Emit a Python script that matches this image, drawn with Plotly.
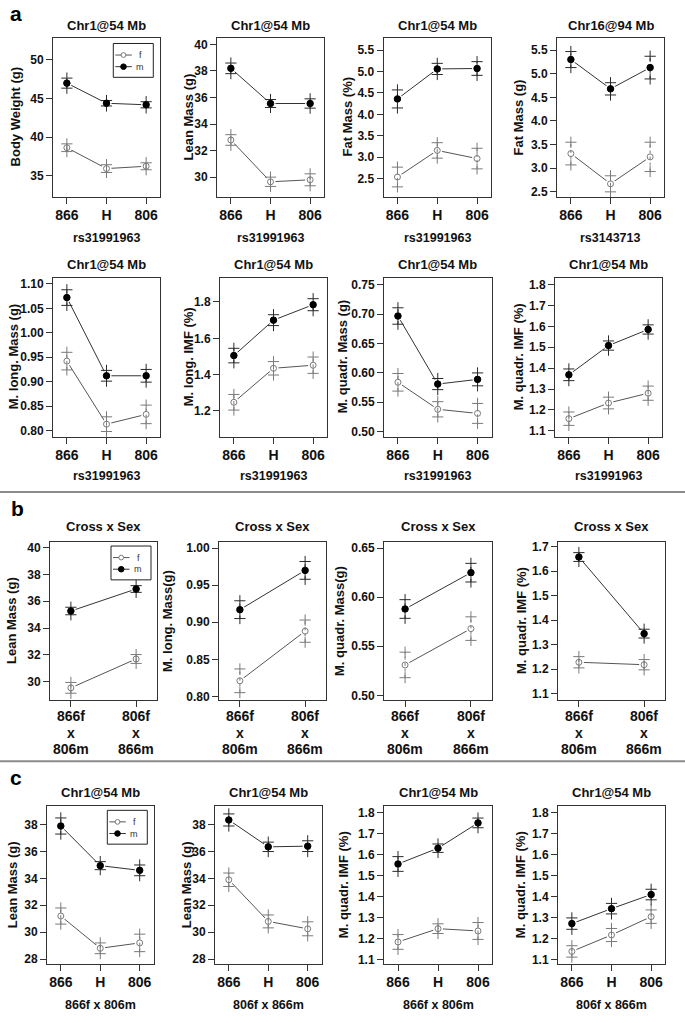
import plotly.graph_objects as go

W, H = 685, 1023
FONT = "Liberation Sans"

# ---------------- categories ----------------
GENO = ["866", "H", "806"]
CROSS = ["866f<br>x<br>806m", "806f<br>x<br>866m"]
SEXES = ["f", "m"]

# ---------------- data: means and standard errors ----------------
# a, top row
BW_F = [38.65, 35.95, 36.25];   BW_F_SE = [0.5, 0.5, 0.45]
BW_M = [47.0, 44.4, 44.2];      BW_M_SE = [0.65, 0.35, 0.4]
LM1_F = [32.8, 29.65, 29.8];    LM1_F_SE = [0.4, 0.35, 0.45]
LM1_M = [38.2, 35.55, 35.55];   LM1_M_SE = [0.4, 0.3, 0.35]
FMP_F = [2.54, 3.16, 2.97];     FMP_F_SE = [0.23, 0.18, 0.24]
FMP_M = [4.36, 5.06, 5.07];     FMP_M_SE = [0.21, 0.13, 0.16]
FMG_F = [3.31, 2.67, 3.24];     FMG_F_SE = [0.24, 0.17, 0.31]
FMG_M = [5.30, 4.68, 5.13];     FMG_M_SE = [0.17, 0.13, 0.24]
# a, bottom row
MLM_F = [0.942, 0.813, 0.833]; MLM_F_SE = [0.018, 0.015, 0.019]
MLM_M = [1.072, 0.912, 0.912]; MLM_M_SE = [0.016, 0.011, 0.013]
MLI_F = [1.248, 1.435, 1.452]; MLI_F_SE = [0.043, 0.037, 0.045]
MLI_M = [1.505, 1.70, 1.785];  MLI_M_SE = [0.04, 0.03, 0.033]
MQM_F = [0.584, 0.538, 0.531]; MQM_F_SE = [0.015, 0.013, 0.017]
MQM_M = [0.697, 0.581, 0.589]; MQM_M_SE = [0.014, 0.0095, 0.011]
MQI_F = [1.158, 1.233, 1.28];  MQI_F_SE = [0.032, 0.028, 0.034]
MQI_M = [1.368, 1.508, 1.585]; MQI_M_SE = [0.028, 0.022, 0.022]
# b
B_LM_F = [29.55, 31.7];     B_LM_F_SE = [0.4, 0.33]
B_LM_M = [35.27, 36.91];    B_LM_M_SE = [0.28, 0.25]
B_MLM_F = [0.821, 0.888];   B_MLM_F_SE = [0.016, 0.015]
B_MLM_M = [0.917, 0.970];   B_MLM_M_SE = [0.012, 0.012]
B_MQM_F = [0.531, 0.568];   B_MQM_F_SE = [0.013, 0.012]
B_MQM_M = [0.588, 0.625];   B_MQM_M_SE = [0.0095, 0.0095]
B_MQI_F = [1.228, 1.218];   B_MQI_F_SE = [0.023, 0.021]
B_MQI_M = [1.658, 1.345];   B_MQI_M_SE = [0.018, 0.018]
# c
C1_F = [31.2, 28.8, 29.2];      C1_F_SE = [0.6, 0.4, 0.65]
C1_M = [37.9, 34.95, 34.6];     C1_M_SE = [0.6, 0.3, 0.4]
C2_F = [33.9, 30.8, 30.25];     C2_F_SE = [0.5, 0.48, 0.52]
C2_M = [38.35, 36.35, 36.4];    C2_M_SE = [0.45, 0.35, 0.4]
C3_F = [1.185, 1.248, 1.237];   C3_F_SE = [0.035, 0.023, 0.04]
C3_M = [1.555, 1.63, 1.75];     C3_M_SE = [0.035, 0.02, 0.023]
C4_F = [1.14, 1.218, 1.305];    C4_F_SE = [0.027, 0.031, 0.032]
C4_M = [1.272, 1.343, 1.41];    C4_M_SE = [0.027, 0.025, 0.025]

# ---------------- tick values ----------------
T_BW = [35, 40, 45, 50]
T_LM = [30, 32, 34, 36, 38, 40]
T_FM = [2.5, 3.0, 3.5, 4.0, 4.5, 5.0, 5.5]
T_MLM = [0.80, 0.85, 0.90, 0.95, 1.00, 1.05, 1.10]
T_MLI = [1.2, 1.4, 1.6, 1.8]
T_MQM = [0.50, 0.55, 0.60, 0.65, 0.70, 0.75]
T_MQI = [1.1, 1.2, 1.3, 1.4, 1.5, 1.6, 1.7, 1.8]
T_BMLM = [0.80, 0.85, 0.90, 0.95, 1.00]
T_BMQM = [0.50, 0.55, 0.60, 0.65]
T_BMQI = [1.1, 1.2, 1.3, 1.4, 1.5, 1.6, 1.7]
T_CLM = [28, 30, 32, 34, 36, 38]

# ---------------- layout geometry (pixels) ----------------
ROWS = {
    "a1": dict(top=36, bot=196, cols=[(53, 160), (217, 324), (383.5, 491), (557, 664)],
               title_y=24, xlab_y=237, ylab_x=[15, 188, 347, 518]),
    "a2": dict(top=277, bot=437, cols=[(53, 160), (220, 327), (384, 491.5), (555, 662)],
               title_y=264, xlab_y=476, ylab_x=[13, 188, 342, 518]),
    "b": dict(top=542.5, bot=701.5, cols=[(50, 157), (219, 326), (384, 492), (558, 665)],
              title_y=527, xlab_y=None, ylab_x=[12, 168, 340, 522]),
    "c": dict(top=808, bot=967, cols=[(47, 153.5), (215, 321.5), (384, 492), (558, 665)],
              title_y=794, xlab_y=1008, ylab_x=[12, 186, 343, 520]),
}
B_TICK_LINES_Y = [718, 735, 751]

PANELS = [
    dict(row="a1", col=0, title="Chr1@54 Mb", ylab="Body Weight (g)", xlab="rs31991963", cats=GENO,
         f=BW_F, fse=BW_F_SE, m=BW_M, mse=BW_M_SE, ticks=T_BW, fmt="d", yr=[32.27, 52.86], key=(113.3, 41.7)),
    dict(row="a1", col=1, title="Chr1@54 Mb", ylab="Lean Mass (g)", xlab="rs31991963", cats=GENO,
         f=LM1_F, fse=LM1_F_SE, m=LM1_M, mse=LM1_M_SE, ticks=T_LM, fmt="d", yr=[28.5, 40.5]),
    dict(row="a1", col=2, title="Chr1@54 Mb", ylab="Fat Mass (%)", xlab="rs31991963", cats=GENO,
         f=FMP_F, fse=FMP_F_SE, m=FMP_M, mse=FMP_M_SE, ticks=T_FM, fmt=".1f", yr=[2.073, 5.785]),
    dict(row="a1", col=3, title="Chr16@94 Mb", ylab="Fat Mass (g)", xlab="rs3143713", cats=GENO,
         f=FMG_F, fse=FMG_F_SE, m=FMG_M, mse=FMG_M_SE, ticks=T_FM, fmt=".1f", yr=[2.39, 5.76]),
    dict(row="a2", col=0, title="Chr1@54 Mb", ylab="M. long. Mass (g)", xlab="rs31991963", cats=GENO,
         f=MLM_F, fse=MLM_F_SE, m=MLM_M, mse=MLM_M_SE, ticks=T_MLM, fmt=".2f", yr=[0.787, 1.1128]),
    dict(row="a2", col=1, title="Chr1@54 Mb", ylab="M. long. IMF (%)", xlab="rs31991963", cats=GENO,
         f=MLI_F, fse=MLI_F_SE, m=MLI_M, mse=MLI_M_SE, ticks=T_MLI, fmt=".1f", yr=[1.0575, 1.934]),
    dict(row="a2", col=2, title="Chr1@54 Mb", ylab="M. quadr. Mass (g)", xlab="rs31991963", cats=GENO,
         f=MQM_F, fse=MQM_F_SE, m=MQM_M, mse=MQM_M_SE, ticks=T_MQM, fmt=".2f", yr=[0.491, 0.7624]),
    dict(row="a2", col=3, title="Chr1@54 Mb", ylab="M. quadr. IMF (%)", xlab="rs31991963", cats=GENO,
         f=MQI_F, fse=MQI_F_SE, m=MQI_M, mse=MQI_M_SE, ticks=T_MQI, fmt=".1f", yr=[1.071, 1.833]),
    dict(row="b", col=0, title="Cross x Sex", ylab="Lean Mass (g)", xlab=None, cats=CROSS,
         f=B_LM_F, fse=B_LM_F_SE, m=B_LM_M, mse=B_LM_M_SE, ticks=T_LM, fmt="d", yr=[28.64, 40.42], key=(111, 546.7)),
    dict(row="b", col=1, title="Cross x Sex", ylab="M. long. Mass(g)", xlab=None, cats=CROSS,
         f=B_MLM_F, fse=B_MLM_F_SE, m=B_MLM_M, mse=B_MLM_M_SE, ticks=T_BMLM, fmt=".2f", yr=[0.795, 1.0085]),
    dict(row="b", col=2, title="Cross x Sex", ylab="M. quadr. Mass(g)", xlab=None, cats=CROSS,
         f=B_MQM_F, fse=B_MQM_F_SE, m=B_MQM_M, mse=B_MQM_M_SE, ticks=T_BMQM, fmt=".2f", yr=[0.4952, 0.6564]),
    dict(row="b", col=3, title="Cross x Sex", ylab="M. quadr. IMF (%)", xlab=None, cats=CROSS,
         f=B_MQI_F, fse=B_MQI_F_SE, m=B_MQI_M, mse=B_MQI_M_SE, ticks=T_BMQI, fmt=".1f", yr=[1.0735, 1.72]),
    dict(row="c", col=0, title="Chr1@54 Mb", ylab="Lean Mass (g)", xlab="866f x 806m", cats=GENO,
         f=C1_F, fse=C1_F_SE, m=C1_M, mse=C1_M_SE, ticks=T_CLM, fmt="d", yr=[27.61, 39.385], key=(107.3, 812.3)),
    dict(row="c", col=1, title="Chr1@54 Mb", ylab="Lean Mass (g)", xlab="806f x 866m", cats=GENO,
         f=C2_F, fse=C2_F_SE, m=C2_M, mse=C2_M_SE, ticks=T_CLM, fmt="d", yr=[27.61, 39.385]),
    dict(row="c", col=2, title="Chr1@54 Mb", ylab="M. quadr. IMF (%)", xlab="866f x 806m", cats=GENO,
         f=C3_F, fse=C3_F_SE, m=C3_M, mse=C3_M_SE, ticks=T_MQI, fmt=".1f", yr=[1.079, 1.83]),
    dict(row="c", col=3, title="Chr1@54 Mb", ylab="M. quadr. IMF (%)", xlab="806f x 866m", cats=GENO,
         f=C4_F, fse=C4_F_SE, m=C4_M, mse=C4_M_SE, ticks=T_MQI, fmt=".1f", yr=[1.079, 1.83]),
]

STYLE = {
    "f": dict(line="#555555", pt="#7a7a7a", sym="circle-open", size=6, cross="#7a7a7a"),
    "m": dict(line="#333333", pt="#000000", sym="circle", size=6.5, cross="#2a2a2a"),
}

fig = go.Figure()
layout = dict(
    width=W, height=H, margin=dict(l=0, r=0, t=0, b=0),
    paper_bgcolor="white", plot_bgcolor="white",
    font=dict(family=FONT, color="#111"), showlegend=False,
)
annotations = []
shapes = []


def px(x):
    return x / W


def py(y):
    return 1 - y / H


for i, p in enumerate(PANELS, start=1):
    sfx = "" if i == 1 else str(i)
    xa, ya = "x" + sfx, "y" + sfx
    row = ROWS[p["row"]]
    l, r = row["cols"][p["col"]]
    n = len(p["cats"])
    xs = list(range(1, n + 1))
    xr = [0.65, n + 0.35] if n == 3 else [0.68, 2.32]

    for sex in SEXES:
        mean = p[sex]
        se = p[sex + "se"]
        st = STYLE[sex]
        # connecting line
        fig.add_trace(go.Scatter(
            x=xs, y=mean, xaxis=xa, yaxis=ya, mode="lines", name=sex,
            line=dict(color=st["line"], width=1), hoverinfo="skip"))
        # gaps around points (R type="b")
        fig.add_trace(go.Scatter(
            x=xs, y=mean, xaxis=xa, yaxis=ya, mode="markers",
            marker=dict(symbol="circle", color="white", size=10, line=dict(width=0)),
            hoverinfo="skip"))
        # dotted error segments
        ex, ey = [], []
        for xv, mv, sv in zip(xs, mean, se):
            ex += [xv, xv, None]
            ey += [mv - sv, mv + sv, None]
        fig.add_trace(go.Scatter(
            x=ex, y=ey, xaxis=xa, yaxis=ya, mode="lines",
            line=dict(color=st["cross"], width=1, dash="dot"), hoverinfo="skip"))
        # + marks at mean +/- se
        cx = xs + xs
        cy = [mv + sv for mv, sv in zip(mean, se)] + [mv - sv for mv, sv in zip(mean, se)]
        fig.add_trace(go.Scatter(
            x=cx, y=cy, xaxis=xa, yaxis=ya, mode="markers",
            marker=dict(symbol="cross-thin", size=8, color=st["cross"], line=dict(width=1, color=st["cross"])),
            hoverinfo="skip"))
        # points
        fig.add_trace(go.Scatter(
            x=xs, y=mean, xaxis=xa, yaxis=ya, mode="markers", name=sex,
            marker=dict(symbol=st["sym"], color=st["pt"], size=st["size"], line=dict(width=1, color=st["pt"])),
            hoverinfo="skip"))

    axis_common = dict(showgrid=False, zeroline=False, showline=True, mirror=True,
                       linecolor="#333", linewidth=1, ticks="outside", ticklen=6,
                       tickcolor="#333", tickwidth=1)
    is_b = p["row"] == "b"
    layout["xaxis" + sfx] = dict(
        domain=[px(l), px(r)], anchor=ya, range=xr, tickmode="array", tickvals=xs,
        ticktext=p["cats"], showticklabels=not is_b, ticklabelstandoff=-1,
        tickfont=dict(family=FONT, size=14, weight="bold", color="#111"),
        **axis_common)
    layout["yaxis" + sfx] = dict(
        domain=[py(row["bot"]), py(row["top"])], anchor=xa, range=p["yr"],
        tickmode="array", tickvals=p["ticks"], tickformat=p["fmt"],
        tickfont=dict(family=FONT, size=12, weight="bold", color="#111"),
        **axis_common)

    if is_b:
        # multi-line category labels on the x scale, with tight line spacing
        for xv, lab in zip(xs, p["cats"]):
            for part, yl in zip(lab.split("<br>"), B_TICK_LINES_Y):
                annotations.append(dict(text=part, x=xv, xref=xa, y=py(yl), yref="paper",
                                        showarrow=False, xanchor="center", yanchor="middle",
                                        font=dict(family=FONT, size=14, weight="bold", color="#111")))

    cx_mid = px((l + r) / 2)
    annotations.append(dict(text=p["title"], x=cx_mid, y=py(row["title_y"]), xref="paper", yref="paper",
                            showarrow=False, xanchor="center", yanchor="middle",
                            font=dict(family=FONT, size=13, weight="bold", color="#111")))
    annotations.append(dict(text=p["ylab"], x=px(row["ylab_x"][p["col"]]),
                            y=py((row["top"] + row["bot"]) / 2), xref="paper", yref="paper",
                            textangle=-90, showarrow=False, xanchor="center", yanchor="middle",
                            font=dict(family=FONT, size=13, weight="bold", color="#111")))
    if p["xlab"]:
        annotations.append(dict(text=p["xlab"], x=cx_mid, y=py(row["xlab_y"]), xref="paper", yref="paper",
                                showarrow=False, xanchor="center", yanchor="middle",
                                font=dict(family=FONT, size=12.5, weight="bold", color="#111")))

    # legend key box (f / m)
    if p.get("key"):
        kl, kt = p["key"]
        shapes.append(dict(type="rect", xref="paper", yref="paper", x0=px(kl), x1=px(kl + 40),
                           y0=py(kt + 34), y1=py(kt), line=dict(color="#222", width=1),
                           fillcolor="white", layer="above"))
        for sex, dy in zip(SEXES, [11.6, 23.3]):
            st = STYLE[sex]
            yy = kt + dy
            shapes.append(dict(type="line", xref="paper", yref="paper", x0=px(kl + 2), x1=px(kl + 18.5),
                               y0=py(yy), y1=py(yy), line=dict(color=st["line"], width=1), layer="above"))
            rad = 2.4 if sex == "f" else 2.8
            shapes.append(dict(type="circle", xref="paper", yref="paper",
                               x0=px(kl + 10.2 - rad), x1=px(kl + 10.2 + rad),
                               y0=py(yy + rad), y1=py(yy - rad),
                               line=dict(color=st["pt"], width=1),
                               fillcolor="white" if sex == "f" else st["pt"], layer="above"))
            annotations.append(dict(text=sex, x=px(kl + 27), y=py(yy), xref="paper", yref="paper",
                                    showarrow=False, xanchor="center", yanchor="middle",
                                    font=dict(family=FONT, size=9, color="#333")))

for letter, (lx, ly) in {"a": (16, 12), "b": (17, 509), "c": (16, 779)}.items():
    annotations.append(dict(text=letter, x=px(lx), y=py(ly), xref="paper", yref="paper",
                            showarrow=False, xanchor="center", yanchor="middle",
                            font=dict(family=FONT, size=21, weight="bold", color="#000")))

for yline in [492.5, 763]:
    shapes.append(dict(type="line", xref="paper", yref="paper", x0=0, x1=1,
                       y0=py(yline), y1=py(yline), line=dict(color="#8a8a8a", width=2)))

layout["annotations"] = annotations
layout["shapes"] = shapes
fig.update_layout(**layout)
fig.write_html("out.html", config={"displayModeBar": False},
               post_script="document.body.style.margin='0px';")
